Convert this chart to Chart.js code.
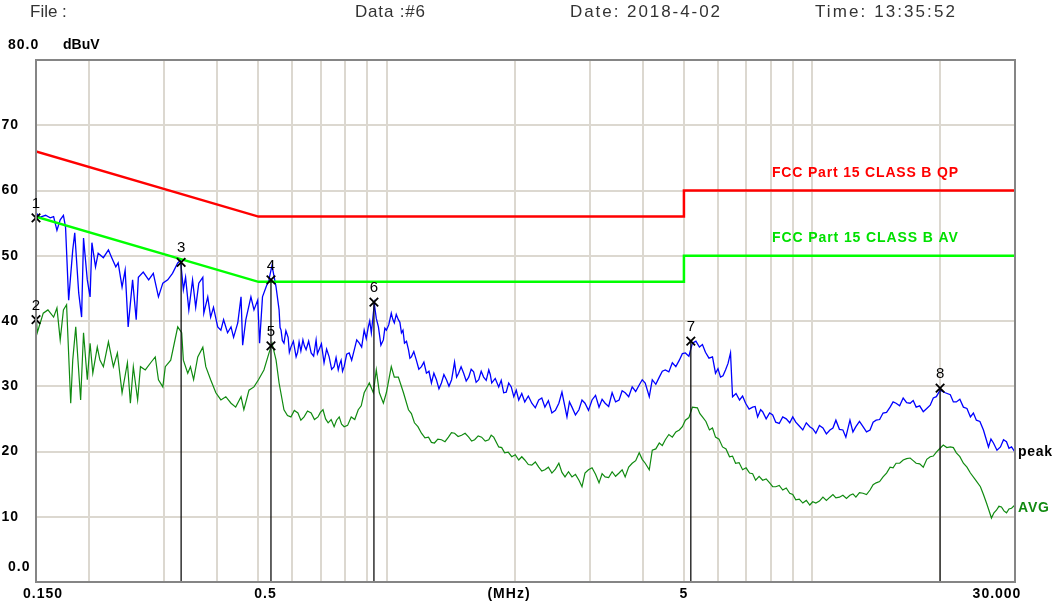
<!DOCTYPE html>
<html>
<head>
<meta charset="utf-8">
<script src="https://cdn.jsdelivr.net/npm/chart.js@4.4.1/dist/chart.umd.min.js"></script>
<style>
  html, body { margin: 0; padding: 0; background: #fff; }
  #wrap { width: 1057px; height: 608px; }
</style>
</head>
<body>
<div id="wrap"><canvas id="grafico" width="1057" height="608"></canvas></div>
<script>
// --- datos (MHz / dBuV) ---
const peakFreq = [0.150,0.153,0.158,0.162,0.165,0.168,0.171,0.174,0.176,0.179,0.183,0.185,0.189,0.192,0.194,0.198,0.201,0.203,0.207,0.210,0.216,0.222,0.226,0.231,0.234,0.239,0.243,0.247,0.253,0.258,0.261,0.268,0.276,0.283,0.291,0.298,0.306,0.314,0.323,0.328,0.333,0.337,0.343,0.350,0.356,0.362,0.370,0.372,0.380,0.386,0.392,0.401,0.408,0.414,0.423,0.431,0.437,0.447,0.455,0.459,0.467,0.480,0.488,0.498,0.503,0.511,0.521,0.529,0.538,0.550,0.559,
  0.562,0.565,0.569,0.574,0.580,0.587,0.591,0.596,0.604,0.613,0.618,0.623,0.629,0.636,0.641,0.647,0.656,0.665,0.674,0.683,0.688,0.694,0.703,0.713,0.723,0.733,0.743,0.753,0.761,0.770,0.776,0.782,0.788,0.795,0.806,0.817,0.828,0.840,0.851,0.863,0.874,0.886,0.896,0.906,0.913,0.921,0.936,0.946,0.957,0.970,0.983,0.991,0.999,1.012,1.026,1.034,1.043,1.054,1.066,1.075,1.084,1.093,1.102,1.114,1.126,1.135,1.144,1.159,1.175,1.191,1.208,1.224,1.241,1.258,1.275,1.292,1.310,1.328,1.346,1.364,1.383,1.402,1.422,1.445,1.461,1.477,1.497,1.518,1.539,1.560,1.581,1.602,1.624,1.647,1.669,1.691,1.715,1.739,1.753,1.767,1.801,1.835,1.860,1.885,1.911,1.937,1.964,1.991,2.018,2.045,2.079,2.113,2.154,2.195,2.237,2.279,2.317,2.356,2.401,2.447,2.494,2.541,2.584,2.655,2.691,2.728,2.780,2.833,2.880,2.927,2.983,3.041,3.099,3.158,3.211,3.264,3.327,3.390,3.454,3.520,3.579,3.638,3.708,3.779,3.851,3.925,3.990,4.055,4.145,4.213,4.294,4.376,4.448,4.521,4.608,4.696,4.786,4.877,4.958,5.039,5.136,5.235,5.335,5.437,5.527,5.618,5.726,5.836,5.932,6.012,6.094,6.177,6.262,6.348,6.434,6.505,6.629,6.756,6.868,6.981,7.115,7.252,7.351,7.451,7.573,7.656,7.803,7.952,8.084,8.218,8.375,8.535,8.698,8.864,9.011,9.159,9.335,9.514,9.696,9.881,10.04,10.21,10.41,10.61,10.81,11.02,11.20,11.38,11.60,11.82,12.01,12.28,12.48,12.68,12.93,13.18,13.43,13.69,13.92,14.15,14.42,14.69,14.97,15.26,15.51,15.76,16.07,16.38,16.69,17.01,17.29,17.57,17.91,18.26,18.61,18.96,19.28,19.60,20.00,20.57,21.14,21.49,21.84,22.26,22.69,23.13,23.57,23.95,24.34,24.81,25.29,25.99,26.34,26.70,27.21,27.73,28.19,28.65,29.04,29.44,30.00];
const peakLevel = [56.6,55.9,56.2,55.8,56.0,53.9,55.5,56.2,54.4,43.2,50.9,53.5,44.3,40.6,52.7,46.3,43.7,52.0,48.3,50.4,49.7,50.9,49.7,48.3,48.9,45.2,47.8,39.1,46.3,40.2,46.7,47.5,46.3,47.3,43.7,45.8,46.3,47.3,48.9,49.3,44.8,46.7,41.7,46.3,42.1,45.8,46.7,41.2,43.7,40.6,42.1,39.1,38.6,40.2,38.2,39.1,37.5,39.7,43.7,36.3,40.2,43.7,41.7,43.2,36.6,43.7,45.2,46.3,48.5,45.2,41.7,
  39.0,38.6,37.0,36.6,38.5,37.5,35.2,36.0,36.9,34.5,35.2,36.8,35.4,37.1,36.2,35.6,36.9,35.1,34.6,37.1,35.0,35.6,36.5,33.6,35.7,34.5,32.6,33.0,34.4,32.5,33.4,34.0,32.3,33.0,34.9,35.1,34.0,35.6,37.1,36.6,36.0,38.6,37.3,39.1,40.0,38.2,42.6,40.4,39.1,36.3,37.1,38.9,38.6,39.4,41.2,40.3,39.7,41.0,40.2,39.8,38.2,38.6,36.6,36.9,35.6,34.3,34.5,35.3,34.0,32.6,33.0,33.7,32.0,32.3,30.5,32.0,31.0,29.6,30.5,31.8,31.0,30.0,31.0,33.7,31.4,32.0,33.0,32.0,30.8,31.4,32.6,32.2,30.6,31.0,32.3,31.4,30.9,32.5,31.8,30.5,31.2,29.9,30.9,29.0,29.1,30.5,29.9,28.4,29.4,27.9,28.9,27.6,28.5,27.4,26.7,27.9,28.2,26.8,27.8,25.9,26.3,27.4,29.1,25.3,27.6,26.8,25.6,26.4,27.9,27.4,26.3,27.9,28.6,26.8,28.0,27.4,26.9,29.0,27.6,27.9,29.3,29.0,28.4,29.9,29.2,30.2,31.0,30.5,28.4,31.0,30.3,31.4,32.3,32.5,32.2,33.6,33.0,34.0,35.0,35.1,34.6,36.6,36.9,36.0,36.4,35.2,34.3,34.5,32.0,32.7,31.4,31.6,32.5,33.5,35.1,28.4,28.9,27.9,28.5,27.4,26.5,26.8,26.9,25.3,26.4,26.1,25.0,25.9,25.6,24.5,24.3,25.3,25.0,24.4,25.3,24.5,23.9,23.3,24.4,23.8,23.5,22.8,24.0,23.6,22.7,23.3,23.6,24.8,23.4,23.3,22.2,24.8,23.0,23.8,24.6,23.8,23.0,23.3,24.5,24.8,24.9,25.9,26.0,26.8,27.6,27.4,27.0,28.2,27.5,27.4,27.8,26.8,27.0,26.1,26.6,27.1,28.2,28.4,29.4,29.0,28.7,27.6,27.6,28.0,26.8,26.6,25.3,25.9,24.8,24.6,23.3,20.7,21.9,21.3,20.2,20.7,21.8,21.5,20.5,20.7,19.9];

const avgFreq = [0.150,0.151,0.156,0.160,0.165,0.168,0.171,0.174,0.177,0.181,0.183,0.186,0.191,0.194,0.198,0.201,0.204,0.209,0.212,0.216,0.222,0.228,0.233,0.239,0.246,0.250,0.254,0.260,0.264,0.271,0.279,0.286,0.291,0.298,0.302,0.311,0.323,0.330,0.333,0.341,0.346,0.352,0.360,0.370,0.376,0.386,0.397,0.408,0.419,0.431,0.442,0.455,0.462,0.475,0.488,0.500,0.515,0.526,0.538,0.550,0.559,
  0.574,0.585,0.596,0.607,0.619,0.629,0.640,0.652,0.665,0.677,0.690,0.699,0.709,0.719,0.729,0.741,0.753,0.763,0.774,0.784,0.795,0.810,0.826,0.842,0.858,0.872,0.886,0.911,0.931,0.946,0.962,0.983,0.999,1.026,1.043,1.066,1.096,1.126,1.144,1.163,1.185,1.208,1.231,1.255,1.275,1.296,1.320,1.346,1.372,1.398,1.421,1.445,1.473,1.501,1.530,1.560,1.585,1.611,1.642,1.673,1.706,1.739,1.762,1.786,1.835,1.865,1.895,1.932,1.969,2.007,2.045,2.079,2.113,2.154,2.195,2.237,2.279,2.317,2.356,2.401,2.447,2.494,2.541,2.584,2.627,2.677,2.728,2.780,2.833,2.880,2.927,2.983,3.041,3.099,3.158,3.211,3.264,3.327,3.390,3.454,3.520,3.579,3.638,3.708,3.779,3.851,3.925,3.990,4.055,4.145,4.213,4.294,4.376,4.448,4.521,4.608,4.696,4.786,4.877,4.958,5.039,5.136,5.235,5.378,5.452,5.527,5.632,5.740,5.836,5.932,6.045,6.161,6.279,6.399,6.505,6.612,6.739,6.868,7.000,7.133,7.252,7.370,7.511,7.656,7.803,7.952,8.084,8.218,8.375,8.535,8.698,8.864,9.011,9.159,9.335,9.514,9.696,9.881,10.04,10.21,10.41,10.61,10.81,11.02,11.20,11.38,11.60,11.82,12.05,12.28,12.48,12.68,12.93,13.18,13.43,13.69,13.92,14.15,14.42,14.69,14.97,15.26,15.51,15.76,16.07,16.38,16.69,17.01,17.29,17.57,17.91,18.26,18.61,18.96,19.28,19.60,20.00,20.35,20.74,21.14,21.49,21.84,22.26,22.69,23.13,23.57,24.20,24.88,25.29,25.71,26.05,26.41,26.77,27.13,27.50,27.88,28.26,28.65,29.04,29.44,30.00];
const avgLevel = [41.7,38.2,41.2,41.7,40.6,42.0,37.1,41.7,42.5,27.4,34.0,39.1,27.9,38.2,31.0,36.6,32.0,36.0,34.0,33.0,36.8,33.0,35.1,29.0,33.6,27.4,33.0,27.9,33.0,32.5,33.6,34.5,31.0,29.9,33.0,34.0,39.1,38.2,34.0,32.0,33.0,31.0,34.5,36.0,33.0,31.0,29.0,27.9,28.4,27.4,26.8,28.4,26.4,29.4,29.9,31.0,32.5,34.5,36.6,34.0,30.5,
  26.4,25.5,25.3,26.3,25.9,24.8,25.3,26.2,25.9,24.9,25.3,26.0,26.4,25.0,24.4,24.9,23.8,24.8,25.3,24.2,23.8,24.0,25.3,24.9,26.4,27.0,29.0,30.5,29.0,32.5,29.0,27.4,29.0,33.0,31.4,31.4,29.0,26.4,25.8,24.4,23.8,22.8,22.1,22.2,21.4,21.3,21.9,21.8,21.5,22.2,22.9,22.8,22.3,22.5,22.8,22.2,21.6,21.8,22.4,22.2,21.6,21.8,22.5,22.2,20.7,20.6,19.8,19.9,19.2,19.5,18.7,19.2,18.7,18.0,17.9,18.4,17.6,17.0,17.2,17.6,16.7,17.3,18.2,16.8,16.1,16.9,16.1,16.5,15.6,14.6,16.7,17.2,17.5,16.5,15.2,16.6,16.1,16.0,16.9,16.2,16.7,17.2,16.1,17.6,18.2,18.6,19.8,18.8,18.2,17.2,20.2,20.4,21.3,20.9,21.8,22.6,22.2,23.0,23.3,23.8,24.8,25.2,26.8,26.7,25.8,25.3,24.6,23.3,23.6,22.2,21.9,20.7,20.4,19.2,19.3,18.2,18.3,17.2,17.5,16.7,16.6,15.6,16.2,15.6,15.8,15.2,14.6,14.6,14.8,14.1,14.4,13.6,13.4,12.6,12.7,12.1,12.5,11.8,12.3,12.1,12.4,13.0,12.5,13.0,13.4,12.9,13.0,13.3,12.8,13.3,13.5,13.0,13.7,13.6,13.4,14.1,14.9,15.2,15.4,16.1,16.7,17.6,17.5,18.2,18.2,18.7,18.9,19.0,18.6,18.2,18.1,17.6,18.8,19.2,19.3,19.9,20.5,21.0,20.6,20.7,20.6,19.8,19.2,18.2,17.6,16.7,15.7,14.6,13.4,12.1,11.0,9.8,10.6,11.0,11.6,11.5,10.9,10.6,11.2,11.3,11.8];

// limites FCC Part 15 clase B
const limitFreq = [0.15, 0.5, 5, 5, 30];
const qpLimit = [66, 56, 56, 60, 60];
const avLimit = [56, 46, 46, 50, 50];

// marcadores
const markerNum = ["1", "2", "3", "4", "5", "6", "7", "8"];
const markerFreq = [0.150, 0.150, 0.329, 0.535, 0.535, 0.934, 5.19, 20.0];
const markerLevel = [55.8, 40.2, 49.0, 46.3, 36.2, 42.9, 36.9, 29.7];

// ejes
const gridFreqs = [0.2,0.3,0.4,0.5,0.6,0.7,0.8,0.9,1,2,3,4,5,6,7,8,9,10,20];
const yTicks = [80, 70, 60, 50, 40, 30, 20, 10, 0];
const xLabels = [{ v: 0.15, t: "0.150" }, { v: 0.5, t: "0.5" }, { v: 5, t: "5" }, { v: 30, t: "30.000" }];

if (peakFreq.length !== peakLevel.length || avgFreq.length !== avgLevel.length) {
    console.error("❌ longitudes distintas", peakFreq.length, peakLevel.length, avgFreq.length, avgLevel.length);
}

const pts = (xs, ys) => xs.map((x, i) => ({ x: x, y: ys[i] }));

// lineas verticales de cada marcador hasta 0
const stems = [];
markerFreq.forEach((f, i) => {
    stems.push({ x: f, y: 0 }, { x: f, y: markerLevel[i] }, { x: f, y: null });
});

// texto ajustado a un ancho (la fuente original es mas ancha)
function textoAncho(c, t, x, y, ancho) {
    c.letterSpacing = "0px";
    const w = c.measureText(t).width;
    const extra = t.length > 1 ? (ancho - w) / (t.length - 1) : 0;
    c.letterSpacing = Math.max(0, extra).toFixed(2) + "px";
    c.fillText(t, x, y);
    c.letterSpacing = "0px";
}

const textos = {
    id: "textos",
    afterDraw(chart) {
        const c = chart.ctx;
        const sx = chart.scales.x, sy = chart.scales.y;
        const a = chart.chartArea;
        c.save();

        // marco
        c.strokeStyle = "#858585";
        c.lineWidth = 2;
        c.strokeRect(a.left, a.top, a.right - a.left, a.bottom - a.top);

        // cabecera
        c.fillStyle = "#333";
        c.font = '17px "Liberation Sans", Arial, sans-serif';
        c.textBaseline = "middle";
        c.textAlign = "left";
        textoAncho(c, "File :", 30, 12, 36);
        textoAncho(c, "Data :#6", 355, 12, 70);
        textoAncho(c, "Date: 2018-4-02", 570, 12, 150);
        textoAncho(c, "Time: 13:35:52", 815, 12, 140);

        // eje y
        c.fillStyle = "#000";
        c.font = 'bold 14px "Liberation Sans", Arial, sans-serif';
        c.letterSpacing = "1px";
        yTicks.forEach(v => {
            const y = sy.getPixelForValue(v);
            if (v === 80 || v === 0) {
                c.textAlign = "left";
                c.fillText(v.toFixed(1), 8, y - 15);
            } else {
                c.textAlign = "right";
                c.fillText(String(v), 19, y);
            }
        });
        c.letterSpacing = "0px";
        c.textAlign = "left";
        c.fillText("dBuV", 63, sy.getPixelForValue(80) - 15);

        // eje x
        c.letterSpacing = "1px";
        c.textAlign = "center";
        xLabels.forEach(l => {
            let x = sx.getPixelForValue(l.v);
            if (l.v === 0.15) x += 7;
            if (l.v === 0.5) x += 7;
            if (l.v === 30) x -= 18;
            c.fillText(l.t, x, 594);
        });
        c.fillText("(MHz)", 509, 594);
        c.letterSpacing = "0px";

        // etiquetas de limites y trazas
        c.textAlign = "left";
        c.fillStyle = "#ff0000";
        textoAncho(c, "FCC Part 15 CLASS B QP", 772, 173, 186);
        c.fillStyle = "#00e000";
        textoAncho(c, "FCC Part 15 CLASS B AV", 772, 238, 186);
        c.fillStyle = "#000";
        textoAncho(c, "peak", 1018, 452, 34);
        c.fillStyle = "#108a10";
        textoAncho(c, "AVG", 1018, 508, 31);

        // numeros de marcador
        c.fillStyle = "#000";
        c.font = '15px "Liberation Sans", Arial, sans-serif';
        c.textAlign = "center";
        markerNum.forEach((n, i) => {
            c.fillText(n, sx.getPixelForValue(markerFreq[i]), sy.getPixelForValue(markerLevel[i]) - 14);
        });
        c.restore();
    }
};

const ctx = document.getElementById("grafico").getContext("2d");
const chartEmision = new Chart(ctx, {
    type: "line",
    data: {
        datasets: [
            { data: pts(markerFreq, markerLevel), showLine: false, pointStyle: "crossRot", pointRadius: 6, borderColor: "#000", borderWidth: 1.8, clip: false, order: 0 },
            { data: stems, borderColor: "#111", borderWidth: 1.3, spanGaps: false, pointRadius: 0, order: 1 },
            { data: pts(limitFreq, qpLimit), borderColor: "#ff0000", borderWidth: 2.5, pointRadius: 0, order: 2 },
            { data: pts(limitFreq, avLimit), borderColor: "#00ff00", borderWidth: 2.5, pointRadius: 0, order: 3 },
            { data: pts(peakFreq, peakLevel), borderColor: "#0000ff", borderWidth: 1.3, pointRadius: 0, order: 4 },
            { data: pts(avgFreq, avgLevel), borderColor: "#108a10", borderWidth: 1.2, pointRadius: 0, order: 5 }
        ]
    },
    options: {
        responsive: false,
        animation: false,
        devicePixelRatio: 1,
        layout: { padding: { left: 36, top: 60, right: 42, bottom: 26 } },
        plugins: { legend: { display: false }, tooltip: { enabled: false } },
        elements: { line: { tension: 0, fill: false } },
        scales: {
            x: {
                type: "logarithmic", min: 0.15, max: 30,
                afterBuildTicks: ax => { ax.ticks = gridFreqs.map(v => ({ value: v })); },
                ticks: { display: false },
                grid: { color: "#dcd8d0", lineWidth: 2, drawTicks: false },
                border: { display: false }
            },
            y: {
                min: 0, max: 80,
                ticks: { display: false, stepSize: 10 },
                grid: { color: "#dcd8d0", lineWidth: 2, drawTicks: false },
                border: { display: false }
            }
        }
    },
    plugins: [textos]
});
</script>
</body>
</html>
